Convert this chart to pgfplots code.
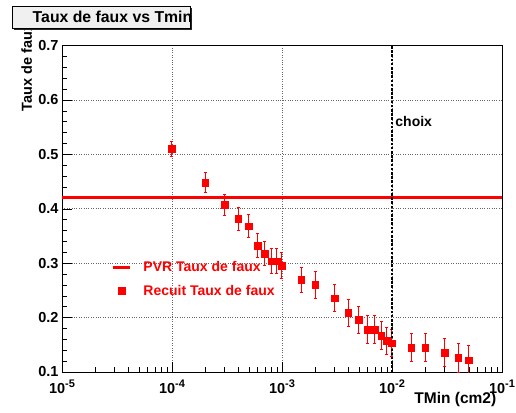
\documentclass[border=0pt]{standalone}
\usepackage{fontspec}
\setmainfont{Liberation Sans}
\usepackage{pgfplots}
\pgfplotsset{compat=1.18}
\pgfplotstableread{
x y e
1e-4 0.510 0.014
2e-4 0.448 0.018
3e-4 0.407 0.020
4e-4 0.382 0.021
5e-4 0.368 0.021
6e-4 0.332 0.022
7e-4 0.317 0.022
8e-4 0.304 0.023
9e-4 0.304 0.023
1e-3 0.295 0.024
1.5e-3 0.270 0.023
2e-3 0.260 0.024
3e-3 0.236 0.025
4e-3 0.209 0.025
5e-3 0.196 0.025
6e-3 0.178 0.025
7e-3 0.178 0.025
8e-3 0.167 0.025
9e-3 0.157 0.025
1e-2 0.153 0.025
1.5e-2 0.145 0.026
2e-2 0.145 0.026
3e-2 0.136 0.026
4e-2 0.126 0.026
5e-2 0.122 0.026
}\datatable
\newcommand{\tlab}[1]{10\raisebox{6pt}{\fontsize{11}{11}\selectfont #1}}
\begin{document}
\begin{tikzpicture}
\useasboundingbox (0pt,0pt) rectangle (516pt,412pt);
\begin{axis}[
  at={(62pt,40pt)}, anchor=south west,
  scale only axis, width=440pt, height=326.4pt,
  xmode=log, xmin=1e-5, xmax=1e-1, ymin=0.1, ymax=0.7,
  xtick={1e-5,1e-4,1e-3,1e-2,1e-1},
  xticklabels={{\tlab{-5}},{\tlab{-4}},{\tlab{-3}},{\tlab{-2}},{\tlab{-1}}},
  xticklabel style={yshift=-4pt},
  ytick={0.1,0.2,0.3,0.4,0.5,0.6,0.7},
  minor y tick num=4,
  yticklabel style={/pgf/number format/fixed,/pgf/number format/precision=1,/pgf/number format/fixed zerofill, /pgf/number format/assume math mode=true},
  tick label style={font=\bfseries\fontsize{14.5}{14.5}\selectfont},
  xtick pos=bottom, ytick pos=left,
  tick align=inside,
  major tick length=10pt, minor tick length=5pt,
  tick style={black, line width=0.6pt},
  axis line style={line width=0.8pt},
  grid=major,
  major grid style={dotted, black!60, line width=0.8pt},
  xlabel={TMin (cm2)},
  xlabel style={at={(axis description cs:0.995,-0.083)}, anchor=east, font=\bfseries\fontsize{15.5}{15.5}\selectfont},
  ylabel={Taux de faux},
  ylabel style={at={(axis description cs:-0.08,1.078)}, anchor=east, font=\bfseries\fontsize{14.5}{14.5}\selectfont},
  legend style={draw=none, fill=none, text=red, font=\bfseries\fontsize{14}{14}\selectfont,
    at={(axis description cs:0.105,0.352)}, anchor=north west, row sep=8pt, cells={anchor=west}},
  legend cell align=left,
]
\addplot[red, line width=3pt] coordinates {(1e-5,0.42) (1e-1,0.42)};
\addlegendentry{\hspace{10pt}PVR Taux de faux}
\addplot[red, only marks, mark=square*, mark size=3.3pt,
  error bars/.cd, y dir=both, y explicit, error bar style={red, line width=1pt}, error mark options={red, rotate=90, mark size=1.5pt, line width=1pt}]
  table[x=x, y=y, y error=e] {\datatable};
\addlegendentry{\hspace{10pt}Recuit Taux de faux}
\addplot[black, line width=2.7pt, dash pattern=on 2.5pt off 1.7pt, forget plot] coordinates {(1e-2,0.1) (1e-2,0.7)};
\node[anchor=west, inner sep=0pt, font=\bfseries\fontsize{14}{14}\selectfont] at (axis cs:1.07e-2,0.5605) {choix};
\end{axis}
\fill[black!85] (14pt,382pt) rectangle (192pt,404pt);
\filldraw[fill=black!6, draw=black, line width=0.8pt] (12pt,384pt) rectangle (190pt,406pt);
\node[font=\bfseries\fontsize{15.8}{15.8}\selectfont, inner sep=0pt] at (112.5pt,395pt) {Taux de faux vs Tmin};
\end{tikzpicture}
\end{document}
